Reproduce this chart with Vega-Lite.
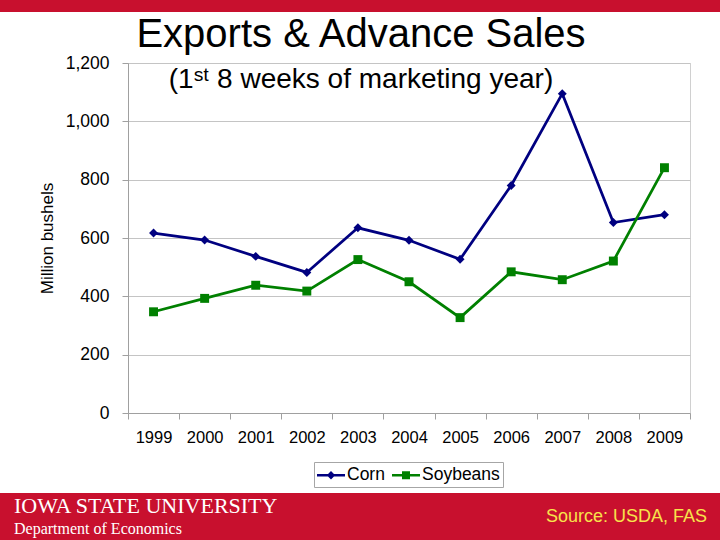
{
  "$schema": "https://vega.github.io/schema/vega-lite/v6.json",
  "background": "white",
  "padding": 0,
  "spacing": 2,
  "resolve": {"scale": {"color": "independent", "shape": "independent"}, "legend": {"color": "independent", "shape": "independent"}},
  "config": {
    "font": "Liberation Sans",
    "view": {"stroke": "#d0d0d0"},
    "legend": {
      "orient": "none",
      "legendX": 186,
      "legendY": 399,
      "direction": "horizontal",
      "labelFont": "Liberation Sans",
      "labelFontSize": 17.5,
      "labelColor": "black",
      "strokeColor": "#a6a6a6",
      "fillColor": "white",
      "padding": 3,
      "symbolSize": 400,
      "symbolOffset": 4,
      "labelOffset": 6,
      "columnPadding": 7,
      "symbolStrokeWidth": 0,
      "symbolOpacity": 1
    }
  },
  "vconcat": [
    {
      "width": 720,
      "height": 12,
      "view": {"fill": "#C8102E", "stroke": null},
      "data": {"values": [{"t": ""}]},
      "mark": "text",
      "encoding": {"text": {"field": "t"}}
    },
    {
      "spacing": 0,
      "resolve": {"scale": {"color": "independent", "shape": "independent"}, "legend": {"color": "independent", "shape": "independent"}},
      "hconcat": [
        {
          "width": 37,
          "height": 428,
          "view": {"stroke": null},
          "data": {"values": [{"t": ""}]},
          "mark": "text",
          "encoding": {"text": {"field": "t"}}
        },
        {
          "width": 562,
          "height": 350,
          "title": {
            "text": "Exports & Advance Sales",
            "subtitle": "(1ˢᵗ 8 weeks of marketing year)",
            "anchor": "middle",
            "frame": "group",
            "dx": -48,
            "offset": -40,
            "font": "Liberation Sans",
            "fontSize": 40,
            "fontWeight": "normal",
            "color": "black",
            "subtitleFont": "Liberation Sans",
            "subtitleFontSize": 28,
            "subtitleColor": "black",
            "subtitlePadding": 11
          },
          "data": {
            "values": [
              {"year": "1999", "crop": "Corn", "value": 617},
              {"year": "2000", "crop": "Corn", "value": 593},
              {"year": "2001", "crop": "Corn", "value": 537},
              {"year": "2002", "crop": "Corn", "value": 482},
              {"year": "2003", "crop": "Corn", "value": 635},
              {"year": "2004", "crop": "Corn", "value": 592},
              {"year": "2005", "crop": "Corn", "value": 527},
              {"year": "2006", "crop": "Corn", "value": 780},
              {"year": "2007", "crop": "Corn", "value": 1095},
              {"year": "2008", "crop": "Corn", "value": 653},
              {"year": "2009", "crop": "Corn", "value": 680},
              {"year": "1999", "crop": "Soybeans", "value": 347},
              {"year": "2000", "crop": "Soybeans", "value": 393},
              {"year": "2001", "crop": "Soybeans", "value": 438},
              {"year": "2002", "crop": "Soybeans", "value": 418},
              {"year": "2003", "crop": "Soybeans", "value": 526},
              {"year": "2004", "crop": "Soybeans", "value": 450},
              {"year": "2005", "crop": "Soybeans", "value": 327},
              {"year": "2006", "crop": "Soybeans", "value": 484},
              {"year": "2007", "crop": "Soybeans", "value": 457},
              {"year": "2008", "crop": "Soybeans", "value": 521},
              {"year": "2009", "crop": "Soybeans", "value": 841}
            ]
          },
          "encoding": {
            "x": {
              "field": "year",
              "type": "ordinal",
              "scale": {"type": "band", "paddingInner": 0, "paddingOuter": 0},
              "axis": {
                "title": null,
                "labelAngle": 0,
                "labelFont": "Liberation Sans",
                "labelFontSize": 16.5,
                "labelColor": "black",
                "labelPadding": 10,
                "tickBand": "extent",
                "tickSize": 6,
                "tickColor": "#a0a0a0",
                "domainColor": "#a0a0a0",
                "grid": false
              }
            },
            "y": {
              "field": "value",
              "type": "quantitative",
              "scale": {"domain": [0, 1200], "nice": false},
              "axis": {
                "title": "Million bushels",
                "titleFont": "Liberation Sans",
                "titleFontSize": 17,
                "titleFontWeight": "normal",
                "titleColor": "black",
                "titlePadding": 9,
                "labelFont": "Liberation Sans",
                "labelFontSize": 17.5,
                "labelColor": "black",
                "labelPadding": 13,
                "tickSize": 6,
                "tickColor": "#a0a0a0",
                "domainColor": "#a0a0a0",
                "gridColor": "#c4c4c4",
                "values": [0, 200, 400, 600, 800, 1000, 1200],
                "format": ",d"
              }
            }
          },
          "layer": [
            {
              "transform": [{"filter": "datum.crop === 'Corn'"}],
              "mark": {"type": "line", "strokeWidth": 2.75, "color": "#000080"}
            },
            {
              "transform": [{"filter": "datum.crop === 'Soybeans'"}],
              "mark": {"type": "line", "strokeWidth": 2.75, "color": "#008000"}
            },
            {
              "transform": [{"filter": "datum.crop === 'Corn'"}],
              "mark": {"type": "point", "shape": "diamond", "filled": true, "size": 80, "opacity": 1, "color": "#000080"}
            },
            {
              "transform": [{"filter": "datum.crop === 'Soybeans'"}],
              "mark": {"type": "point", "shape": "square", "filled": true, "size": 80, "opacity": 1, "color": "#008000"}
            },
            {
              "transform": [{"filter": "datum.value < 0"}],
              "mark": {"type": "point", "filled": true, "opacity": 1},
              "encoding": {
                "color": {"field": "crop", "type": "nominal", "scale": {"domain": ["Corn", "Soybeans"], "range": ["#000080", "#008000"]}, "legend": {"title": null}},
                "shape": {"field": "crop", "type": "nominal", "scale": {"domain": ["Corn", "Soybeans"], "range": ["M-1.4,-0.13H1.4V0.13H-1.4ZM0,-0.42L0.42,0L0,0.42L-0.42,0Z", "M-1.4,-0.13H1.4V0.13H-1.4ZM-0.4,-0.4H0.4V0.4H-0.4Z"]}, "legend": {"title": null}}
              }
            }
          ]
        }
      ]
    },
    {
      "spacing": 0,
      "hconcat": [
        {
          "width": 360,
          "height": 48,
          "view": {"fill": "#C8102E", "stroke": null},
          "title": {
            "text": "IOWA STATE UNIVERSITY",
            "subtitle": "Department of Economics",
            "anchor": "start",
            "frame": "group",
            "orient": "top",
            "offset": -45,
            "dx": 14,
            "font": "Liberation Serif",
            "fontSize": 22,
            "fontWeight": "normal",
            "color": "white",
            "subtitleFont": "Liberation Serif",
            "subtitleFontSize": 16,
            "subtitleColor": "white",
            "subtitlePadding": 3
          },
          "data": {"values": [{"t": ""}]},
          "mark": "text",
          "encoding": {"text": {"field": "t"}}
        },
        {
          "width": 360,
          "height": 48,
          "view": {"fill": "#C8102E", "stroke": null},
          "title": {
            "text": "Source: USDA, FAS",
            "anchor": "end",
            "frame": "group",
            "orient": "top",
            "offset": -33,
            "dx": -13,
            "font": "Liberation Sans",
            "fontSize": 18,
            "fontWeight": "normal",
            "color": "#F7E34B"
          },
          "data": {"values": [{"t": ""}]},
          "mark": "text",
          "encoding": {"text": {"field": "t"}}
        }
      ]
    }
  ]
}
